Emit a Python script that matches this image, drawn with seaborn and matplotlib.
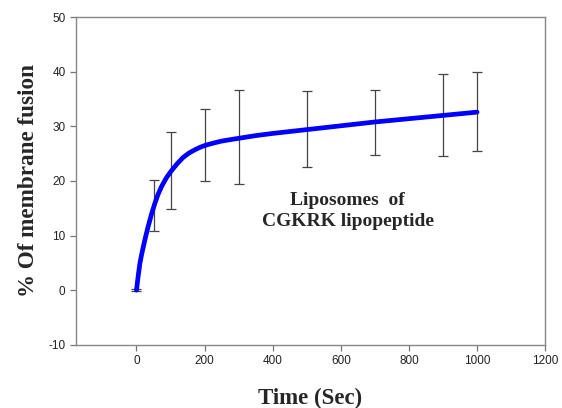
"""Membrane fusion kinetics of CGKRK lipopeptide liposomes."""

import matplotlib

matplotlib.use("Agg")
import matplotlib.pyplot as plt
import pandas as pd
import seaborn as sns

# fitted curve
curve_time = [0, 5, 10, 15, 22, 28, 34, 44, 54, 63, 73, 88, 103, 120, 137,
              154, 171, 188, 206, 230, 250, 289, 350, 400, 500, 600, 700,
              800, 900, 1000]
curve_fusion = [0, 2.6, 4.9, 6.5, 8.5, 10.1, 11.6, 13.9, 15.9, 17.5, 18.9,
                20.6, 21.9, 23.2, 24.3, 25.1, 25.7, 26.2, 26.6, 27.0, 27.3,
                27.7, 28.3, 28.7, 29.4, 30.1, 30.8, 31.4, 32.0, 32.6]

# measured points with error bar limits
point_time = [0, 50, 100, 200, 300, 500, 700, 900, 1000]
bar_upper = [0.2, 20.1, 28.9, 33.1, 36.6, 36.4, 36.7, 39.5, 39.9]
bar_lower = [-0.2, 10.8, 14.9, 19.9, 19.4, 22.5, 24.7, 24.5, 25.4]

x_ticks = [0, 200, 400, 600, 800, 1000, 1200]
y_ticks = [-10, 0, 10, 20, 30, 40, 50]

sns.set_style("white")
plt.rcParams["font.family"] = ["Liberation Sans", "DejaVu Sans"]
plt.rcParams["axes.unicode_minus"] = False

curve = pd.DataFrame({"time": curve_time, "fusion": curve_fusion})
mid = [(u + l) / 2 for u, l in zip(bar_upper, bar_lower)]
half = [(u - l) / 2 for u, l in zip(bar_upper, bar_lower)]

fig = plt.figure(figsize=(5.62, 4.08), dpi=100)
ax = fig.add_axes([0.135, 0.155, 0.835, 0.803])

ax.errorbar(point_time, mid, yerr=half, fmt="none", ecolor="#444444",
            elinewidth=0.9, capsize=3.6, capthick=0.9, zorder=2)
sns.lineplot(data=curve, x="time", y="fusion", color="#0000ff",
             linewidth=3.4, ax=ax, zorder=3)

ax.set_xlim(-178, 1200)
ax.set_ylim(-10, 50)
ax.set_xticks(x_ticks)
ax.set_yticks(y_ticks)
ax.tick_params(axis="both", direction="out", length=4, width=0.9,
               color="#777777", labelsize=8.5, labelcolor="#222222",
               bottom=True, left=True, top=False, right=False)
for spine in ax.spines.values():
    spine.set_color("#888888")
    spine.set_linewidth(1.0)

serif = ["Liberation Serif", "DejaVu Serif"]
ax.set_xlabel("Time (Sec)", family=serif, fontweight="bold", fontsize=16.5,
              labelpad=15)
ax.set_ylabel("% Of membrane fusion", family=serif, fontweight="bold",
              fontsize=16.7, labelpad=7)
ax.text(620, 14.5, "Liposomes  of\nCGKRK lipopeptide", family=serif,
        fontweight="bold", fontsize=14, ha="center", va="center",
        linespacing=1.3)

fig.savefig("out.png", dpi=100)
